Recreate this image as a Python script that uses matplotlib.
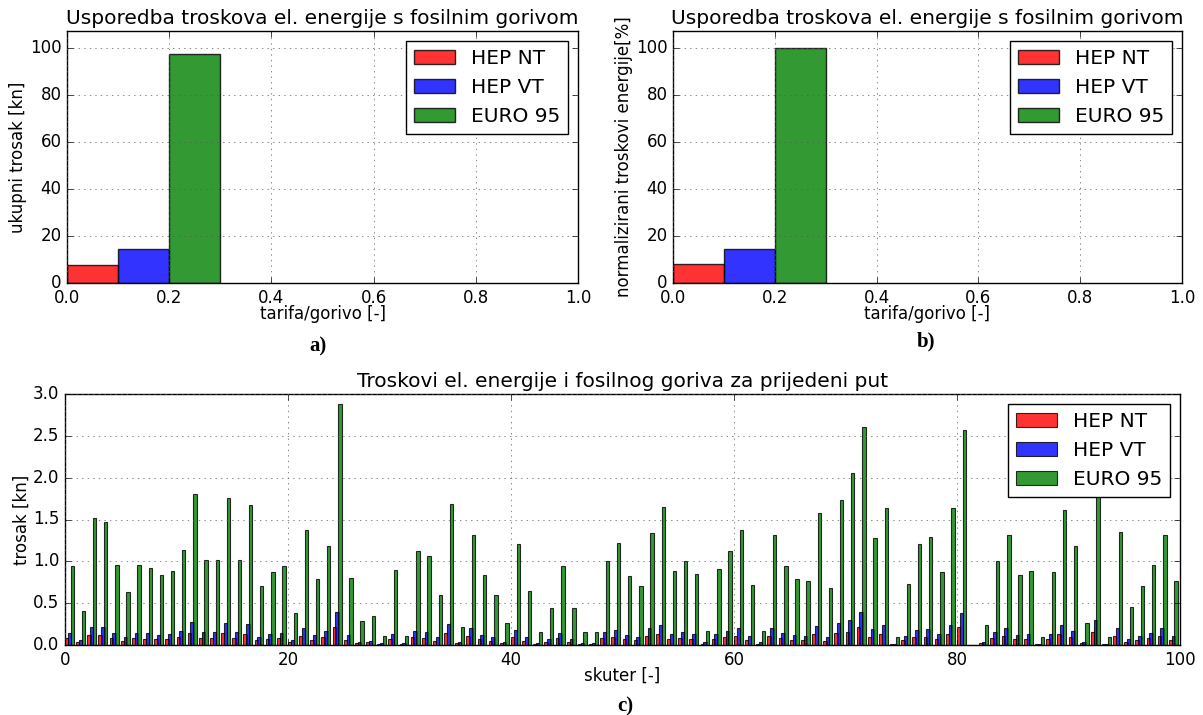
import matplotlib
matplotlib.use('Agg')
import matplotlib.pyplot as plt
import numpy as np

plt.style.use('classic')
plt.rcParams['figure.facecolor'] = 'white'
plt.rcParams['savefig.facecolor'] = 'white'
plt.rcParams['font.family'] = ['DejaVu Sans']
plt.rcParams['grid.color'] = '0.35'

labels = ['HEP NT', 'HEP VT', 'EURO 95']
colors = ['r', 'b', 'g']

# ukupni trosak [kn] i normalizirano [%]
ukupno = [7.8, 14.4, 97.6]
normalizirano = [8.0, 14.7, 100.0]

# trosak po skuteru [kn]
euro95 = [0.94, 0.41, 1.52, 1.47, 0.96, 0.63, 0.96, 0.92, 0.84, 0.88,
          1.13, 1.80, 1.02, 1.02, 1.76, 1.02, 1.67, 0.70, 0.87, 0.95,
          0.38, 1.38, 0.79, 1.18, 2.88, 0.80, 0.29, 0.35, 0.11, 0.90,
          0.11, 1.12, 1.06, 0.60, 1.69, 0.22, 1.32, 0.84, 0.60, 0.26,
          1.21, 0.64, 0.16, 0.44, 0.94, 0.44, 0.16, 0.16, 1.00, 1.22,
          0.82, 0.70, 1.34, 1.65, 0.88, 1.00, 0.85, 0.17, 0.91, 1.12,
          1.38, 0.72, 0.17, 1.32, 0.94, 0.79, 0.77, 1.58, 0.68, 1.73,
          2.05, 2.61, 1.28, 1.64, 0.10, 0.73, 1.21, 1.29, 0.87, 1.64,
          2.57, 0.00, 0.24, 1.00, 1.32, 0.84, 0.89, 0.10, 0.87, 1.61,
          1.18, 0.26, 2.00, 0.10, 1.35, 0.46, 0.71, 0.96, 1.32, 0.77]
hep_nt = [0.08, 0.03, 0.12, 0.12, 0.08, 0.05, 0.08, 0.07, 0.07, 0.07,
          0.09, 0.14, 0.08, 0.08, 0.14, 0.08, 0.13, 0.06, 0.07, 0.08,
          0.03, 0.11, 0.06, 0.09, 0.22, 0.06, 0.02, 0.03, 0.01, 0.07,
          0.01, 0.09, 0.08, 0.05, 0.14, 0.02, 0.11, 0.07, 0.05, 0.02,
          0.10, 0.05, 0.01, 0.04, 0.08, 0.04, 0.01, 0.01, 0.08, 0.10,
          0.07, 0.06, 0.11, 0.13, 0.07, 0.08, 0.07, 0.01, 0.07, 0.09,
          0.11, 0.06, 0.01, 0.11, 0.08, 0.06, 0.06, 0.13, 0.05, 0.14,
          0.16, 0.21, 0.10, 0.13, 0.01, 0.06, 0.10, 0.10, 0.07, 0.13,
          0.21, 0.00, 0.02, 0.08, 0.11, 0.07, 0.07, 0.01, 0.07, 0.13,
          0.09, 0.02, 0.16, 0.01, 0.11, 0.04, 0.06, 0.08, 0.11, 0.06]
hep_vt = [0.14, 0.06, 0.22, 0.22, 0.14, 0.09, 0.14, 0.14, 0.12, 0.13,
          0.17, 0.27, 0.15, 0.15, 0.26, 0.15, 0.25, 0.10, 0.13, 0.14,
          0.06, 0.20, 0.12, 0.17, 0.40, 0.12, 0.04, 0.05, 0.02, 0.13,
          0.02, 0.17, 0.16, 0.09, 0.25, 0.03, 0.20, 0.12, 0.09, 0.04,
          0.18, 0.09, 0.02, 0.07, 0.14, 0.07, 0.02, 0.02, 0.15, 0.18,
          0.12, 0.10, 0.20, 0.24, 0.13, 0.15, 0.13, 0.03, 0.13, 0.17,
          0.20, 0.11, 0.03, 0.20, 0.14, 0.12, 0.11, 0.23, 0.10, 0.26,
          0.30, 0.39, 0.19, 0.24, 0.01, 0.11, 0.18, 0.19, 0.13, 0.24,
          0.38, 0.00, 0.04, 0.15, 0.20, 0.12, 0.13, 0.01, 0.13, 0.24,
          0.17, 0.04, 0.30, 0.01, 0.20, 0.07, 0.11, 0.14, 0.20, 0.11]

W, H = 1203, 715
fig = plt.figure(figsize=(W / 100, H / 100), dpi=100)


def ax_px(left, top, right, bottom):
    return fig.add_axes([left / W, 1 - bottom / H, (right - left) / W, (bottom - top) / H])


def summary(ax, vals, ylabel):
    for k in range(3):
        ax.bar(k * 0.1, vals[k], 0.1, align='edge', color=colors[k],
               edgecolor='k', alpha=0.8, label=labels[k])
    ax.set_xlim(0, 1)
    ax.set_ylim(0, 107.4)
    ax.set_yticks(range(0, 101, 20))
    ax.grid(True)
    ax.set_title('Usporedba troskova el. energije s fosilnim gorivom', fontsize=14.5)
    ax.set_xlabel('tarifa/gorivo [-]', fontsize=12, labelpad=-1)
    ax.set_ylabel(ylabel, fontsize=12, labelpad=2)
    ax.tick_params(labelsize=12)
    ax.legend(loc='upper right', fontsize=14.5, handlelength=2.0)


ax1 = ax_px(67, 31, 578, 283)
summary(ax1, ukupno, 'ukupni trosak [kn]')
ax2 = ax_px(673, 31, 1182, 283)
summary(ax2, normalizirano, 'normalizirani troskovi energije[%]')

ax3 = ax_px(65, 394, 1180, 645)
x = np.arange(len(euro95))
for k, vals in enumerate([hep_nt, hep_vt, euro95]):
    ax3.bar(x + k * 0.25, vals, 0.3, align='edge', color=colors[k],
            edgecolor='k', alpha=0.8, linewidth=0.8, label=labels[k])
ax3.set_xlim(0, 100)
ax3.set_ylim(0, 3.0)
ax3.set_yticks(np.arange(0, 3.01, 0.5))
ax3.grid(True)
ax3.set_title('Troskovi el. energije i fosilnog goriva za prijedeni put', fontsize=14.5)
ax3.set_xlabel('skuter [-]', fontsize=12, labelpad=-1)
ax3.set_ylabel('trosak [kn]', fontsize=12, labelpad=2)
ax3.tick_params(labelsize=12)
ax3.legend(loc='upper right', fontsize=14.5, handlelength=2.0)

for txt, px, py in [('a)', 318, 346), ('b)', 926, 341), ('c)', 625, 706)]:
    fig.text(px / W, 1 - py / H, txt, ha='center', va='center',
             family='Liberation Serif', fontweight='bold', fontsize=15)

fig.savefig('out.png', dpi=100)
